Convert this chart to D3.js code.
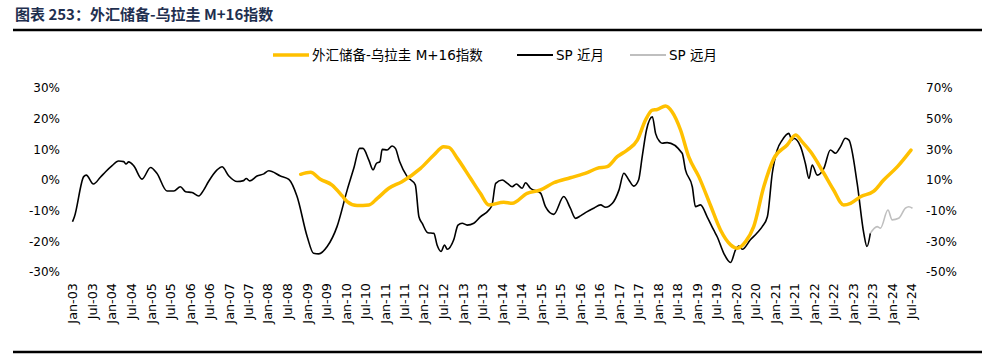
<!DOCTYPE html>
<html>
<head>
<meta charset="utf-8">
<script src="https://cdn.jsdelivr.net/npm/d3@7"></script>
<style>
  body { margin: 0; background: #fff; }
  text { font-family: "DejaVu Sans", "Noto Sans CJK SC", sans-serif; }
</style>
</head>
<body>
<script>
// 外汇储备-乌拉圭 M+16指数 (right axis)
const reserveDates = ["2008-11-07","2009-02-07","2009-05-10","2009-08-28","2009-12-01","2010-01-16","2010-04-19","2010-08-07","2010-10-25","2011-02-10","2011-06-13","2011-12-04","2012-04-07","2012-07-07","2012-08-25","2012-11-13","2013-03-16","2013-06-16","2013-09-04","2014-01-22","2014-04-10","2014-08-28","2015-01-01","2015-05-04","2015-10-07","2016-03-13","2016-06-13","2016-09-16","2016-12-19","2017-03-22","2017-06-25","2017-09-10","2017-11-13","2017-12-28","2018-03-16","2018-05-16","2018-08-04","2018-10-19","2019-01-22","2019-05-10","2019-08-13","2019-11-16","2020-01-16","2020-04-04","2020-06-19","2020-09-22","2020-12-25","2021-04-28","2021-07-16","2021-09-16","2021-12-04","2022-04-07","2022-07-07","2022-10-10","2022-12-13","2023-03-16","2023-07-19","2023-10-19","2024-02-25","2024-07-01"];
const reserveValues = [13.7,15,10.5,6.7,-0.4,-4.1,-6.7,-6.3,-2,4.6,8.9,17.6,26.3,31.7,31.3,24.1,11.1,1.3,-6.3,-4.5,-5.2,1.3,3.5,8.2,11.5,14.8,17.6,18.7,25.2,29.5,36,49.1,55.6,56,58.2,54.5,42.6,25.2,12.2,-6.3,-22.6,-32.3,-34.5,-30.2,-20.4,5.7,24.1,32.8,39.3,34.9,28.4,14.4,3.5,-6.3,-5.2,-0.9,2.8,10,18.7,29.5];

// SP 近月 (left axis)
const nearDates = ["2003-01-01","2003-01-19","2003-04-16","2003-05-10","2003-07-16","2003-09-19","2003-11-07","2004-01-07","2004-03-07","2004-04-25","2004-05-16","2004-06-10","2004-07-28","2004-10-13","2005-01-01","2005-03-01","2005-06-04","2005-08-07","2005-10-07","2005-11-25","2006-01-25","2006-03-28","2006-05-13","2006-06-28","2006-09-16","2006-11-01","2007-01-04","2007-03-22","2007-05-22","2007-06-16","2007-07-19","2007-09-25","2007-11-28","2008-01-13","2008-05-01","2008-07-19","2008-10-04","2009-01-07","2009-03-07","2009-04-25","2009-07-13","2009-10-13","2010-01-16","2010-03-19","2010-05-13","2010-06-13","2010-08-07","2010-09-16","2010-10-16","2010-11-19","2010-12-10","2011-01-25","2011-03-13","2011-04-13","2011-05-22","2011-08-01","2011-10-16","2011-11-19","2011-12-19","2012-02-10","2012-04-07","2012-05-07","2012-06-13","2012-07-16","2012-08-10","2012-10-10","2012-11-19","2012-12-28","2013-02-13","2013-04-16","2013-06-16","2013-09-04","2013-10-04","2013-11-07","2014-01-07","2014-02-25","2014-04-10","2014-05-19","2014-07-13","2014-08-13","2014-09-28","2015-01-01","2015-02-16","2015-05-04","2015-08-07","2015-10-07","2015-11-25","2016-01-10","2016-03-13","2016-05-13","2016-07-16","2016-09-01","2016-11-04","2017-01-04","2017-02-19","2017-04-07","2017-05-22","2017-07-07","2017-08-10","2017-09-19","2017-11-13","2017-12-13","2018-01-22","2018-02-13","2018-04-01","2018-08-19","2018-09-19","2018-11-22","2018-12-22","2019-02-07","2019-04-10","2019-06-10","2019-07-13","2019-09-13","2019-11-16","2020-01-01","2020-02-01","2020-03-04","2020-05-19","2020-07-22","2020-09-07","2020-10-25","2020-12-10","2021-01-25","2021-03-13","2021-05-13","2021-06-13","2021-06-28","2021-09-01","2021-10-16","2021-11-19","2021-12-19","2022-02-04","2022-04-07","2022-06-07","2022-07-25","2022-09-10","2022-10-25","2022-11-28","2023-02-13","2023-04-16","2023-05-16","2023-06-16"];
const nearValues = [-13.6,-12,1.1,1.6,-1.3,0.9,2.7,4.7,6.2,6,5.2,5.9,4.6,0.3,4.1,2.2,-3.6,-3.6,-2.2,-3.8,-4.1,-5.2,-3.3,-0.5,3.3,4.3,1.3,-0.5,-0.2,0.5,-0.3,1.3,2,3,1.3,0.2,-5.4,-18.5,-23.9,-24.1,-21.7,-15.2,-3.3,3.8,10.3,10.3,6.5,3.3,5.4,6,10,9.8,11.1,10.3,6,1.1,-1.6,-12,-14.1,-17.2,-17.4,-21.2,-23.3,-21.2,-22.6,-19.5,-14.7,-14.1,-14.7,-14.1,-12,-9.8,-8.1,-1.1,0,-1.1,-2.2,-1.3,-2.7,-0.9,-2.7,-4.3,-8.7,-11.2,-5.4,-9.2,-12.5,-11.7,-10.3,-9.2,-8.1,-8.9,-7.6,-3.3,2.2,0,-2,0,7.6,16.3,20.6,15.2,12.5,12,12.2,8.7,3.3,-2.2,-8.7,-8.1,-12,-16.3,-18.5,-23.9,-26.9,-22.8,-21.5,-22.6,-19.5,-17.2,-15.2,-12,2.2,9.8,13,15.2,13,13.6,10.9,5.4,0.5,4.9,1.6,3.8,9.8,8.7,10.9,13.6,13,-1.1,-17.4,-21.7,-17.4];

// SP 远月 (left axis)
const farDates = ["2023-06-16","2023-08-19","2023-09-19","2023-11-28","2024-01-07","2024-03-07","2024-05-10","2024-06-10","2024-07-15"];
const farValues = [-17.4,-15.2,-15.7,-9.8,-13,-12.5,-9.2,-8.7,-9.2];

const leftTicks = [-30, -20, -10, 0, 10, 20, 30];
const rightTicks = [-50, -30, -10, 10, 30, 50, 70];
const legendNames = ["外汇储备-乌拉圭 M+16指数", "SP 近月", "SP 远月"];

const width = 982, height = 361;
const parse = d3.timeParse("%Y-%m-%d");

const svg = d3.select("body").append("svg")
  .attr("width", width)
  .attr("height", height);

// title and rules
svg.append("text")
  .attr("x", 15).attr("y", 20)
  .attr("font-size", 15).attr("font-weight", "bold")
  .attr("fill", "#1f2f4f")
  .style("font-family", "'Noto Sans CJK SC', sans-serif")
  .text("图表 253：外汇储备-乌拉圭 M+16指数");
svg.append("line").attr("x1", 13).attr("x2", width).attr("y1", 30).attr("y2", 30)
  .attr("stroke", "#000").attr("stroke-width", 2.5);
svg.append("line").attr("x1", 13).attr("x2", width).attr("y1", 352).attr("y2", 352)
  .attr("stroke", "#000").attr("stroke-width", 2.5);

// scales
const x = d3.scaleTime()
  .domain([new Date(2003, 0, 1), new Date(2024, 6, 1)])
  .range([72.5, 911]);
const yL = d3.scaleLinear().domain([-30, 30]).range([272, 88]);
const yR = d3.scaleLinear().domain([-50, 70]).range([272, 88]);

// axes
const xTicks = d3.range(0, 44).map(i => new Date(2003, i * 6, 1));
const gx = svg.append("g")
  .attr("transform", "translate(0,280)")
  .call(d3.axisBottom(x).tickValues(xTicks).tickFormat(d3.timeFormat("%b-%y")).tickSize(0));
gx.select(".domain").remove();
gx.selectAll("text")
  .attr("font-size", 12.8).attr("fill", "#000")
  .attr("text-anchor", "end")
  .attr("transform", "rotate(-90)")
  .attr("x", -3).attr("y", 0).attr("dy", "0.35em");

const gl = svg.append("g")
  .attr("transform", "translate(62,0)")
  .call(d3.axisLeft(yL).tickValues(leftTicks).tickFormat(d => d + "%").tickSize(0));
gl.select(".domain").remove();
gl.selectAll("text").attr("font-size", 12).attr("fill", "#000").attr("x", -2);

const gr = svg.append("g")
  .attr("transform", "translate(924,0)")
  .call(d3.axisRight(yR).tickValues(rightTicks).tickFormat(d => d + "%").tickSize(0));
gr.select(".domain").remove();
gr.selectAll("text").attr("font-size", 12).attr("fill", "#000").attr("x", 2);

// lines
const zip = (ds, vs) => ds.map((d, i) => ({ date: parse(d), value: vs[i] }));

const lineL = d3.line().x(d => x(d.date)).y(d => yL(d.value)).curve(d3.curveMonotoneX);
const lineR = d3.line().x(d => x(d.date)).y(d => yR(d.value)).curve(d3.curveMonotoneX);

svg.append("path")
  .datum(zip(farDates, farValues))
  .attr("fill", "none").attr("stroke", "#bfbfbf").attr("stroke-width", 1.6)
  .attr("stroke-linejoin", "round")
  .attr("d", lineL);

svg.append("path")
  .datum(zip(nearDates, nearValues))
  .attr("fill", "none").attr("stroke", "#000").attr("stroke-width", 1.6)
  .attr("stroke-linejoin", "round")
  .attr("d", lineL);

svg.append("path")
  .datum(zip(reserveDates, reserveValues))
  .attr("fill", "none").attr("stroke", "#ffc000").attr("stroke-width", 3.5)
  .attr("stroke-linejoin", "round").attr("stroke-linecap", "round")
  .attr("d", lineR);

// legend
const legendItems = [
  { name: legendNames[0], color: "#ffc000", w: 3.5, x: 273 },
  { name: legendNames[1], color: "#000", w: 1.8, x: 517 },
  { name: legendNames[2], color: "#bfbfbf", w: 1.8, x: 630 }
];
const lg = svg.append("g").selectAll("g")
  .data(legendItems)
  .enter().append("g")
  .attr("transform", d => `translate(${d.x},55)`);
lg.append("line")
  .attr("x1", 0).attr("x2", 36)
  .attr("stroke", d => d.color).attr("stroke-width", d => d.w);
lg.append("text")
  .attr("x", 39).attr("dy", "0.35em")
  .attr("font-size", 13.5)
  .text(d => d.name);
</script>
</body>
</html>
